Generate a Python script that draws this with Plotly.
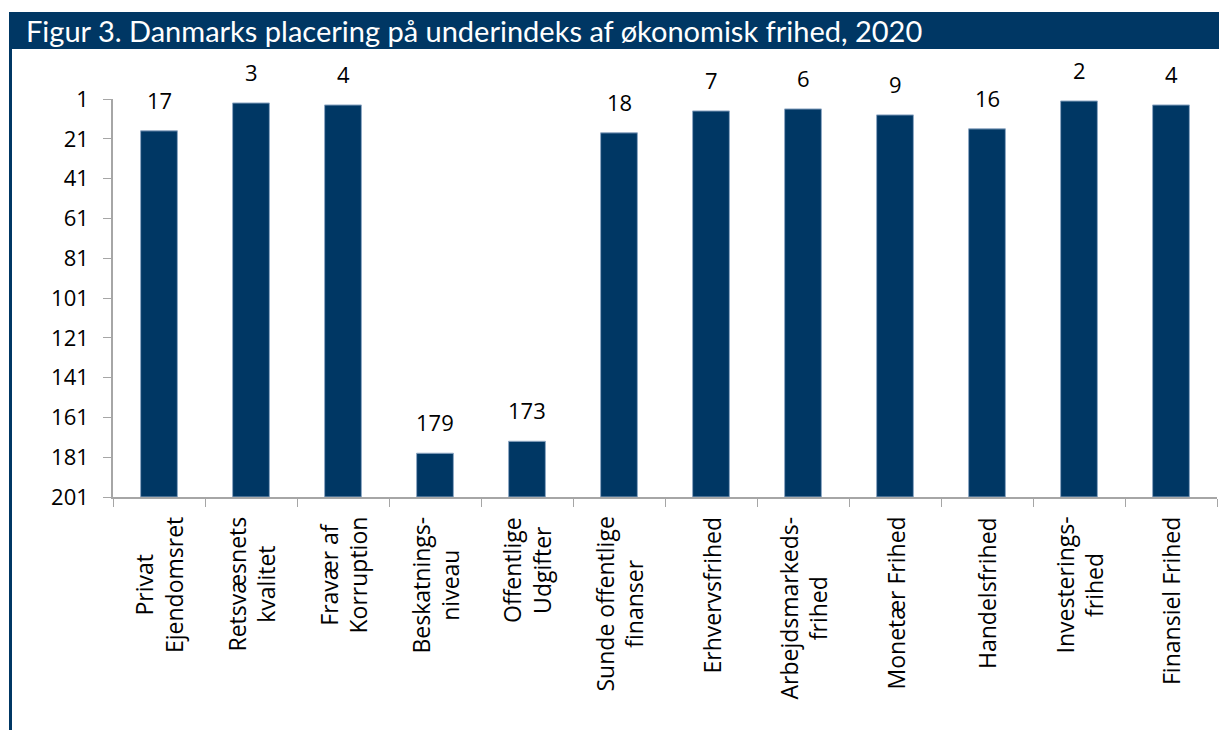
import plotly.graph_objects as go

categories = [
    "Privat<br>Ejendomsret",
    "Retsvæsnets<br>kvalitet",
    "Fravær af<br>Korruption",
    "Beskatnings-<br>niveau",
    "Offentlige<br>Udgifter",
    "Sunde offentlige<br>finanser",
    "Erhvervsfrihed",
    "Arbejdsmarkeds-<br>frihed",
    "Monetær Frihed",
    "Handelsfrihed",
    "Investerings-<br>frihed",
    "Finansiel Frihed",
]
ranks = [17, 3, 4, 179, 173, 18, 7, 6, 9, 16, 2, 4]
ytick_vals = list(range(1, 202, 20))
worst_rank = 201
title_text = "Figur 3. Danmarks placering på underindeks af økonomisk frihed, 2020"

NAVY = "#003764"
GRAY = "#a6a6a6"
OFF = 8  # page body margin offset
W, H = 1227 - OFF, 730 - OFF
L, R, T, B = 113 - OFF, 1217 - OFF, 99 - OFF, 497 - OFF  # plot area in figure pixels


def px(x):
    return (x - OFF - L) / (R - L)


def py(y):
    return (B - (y - OFF)) / (B - T)


xs = list(range(len(categories)))

fig = go.Figure()
fig.add_trace(go.Bar(
    x=xs,
    y=[r - worst_rank for r in ranks],
    base=[worst_rank] * len(ranks),
    width=0.4,
    marker=dict(color=NAVY, line=dict(color="#8fa8c4", width=1)),
    hoverinfo="skip",
))

annotations = []
for x, r in zip(xs, ranks):
    annotations.append(dict(
        x=x, y=r, xref="x", yref="y", text=str(r), showarrow=False,
        yanchor="bottom", yshift=14,
        font=dict(family="Open Sans", size=22, color="black"),
    ))
for x, c in zip(xs, categories):
    annotations.append(dict(
        x=x, y=0, xref="x", yref="paper", text=c, showarrow=False,
        yanchor="top", xanchor="center", yshift=-18, textangle=-90, align="center",
        font=dict(family="Open Sans", size=23, color="black"),
    ))
annotations.append(dict(
    x=px(24), y=py(31), xref="paper", yref="paper", text=title_text, showarrow=False,
    xanchor="left", yanchor="middle",
    font=dict(family="Lato", size=29, color="white"),
))

shapes = [
    dict(type="rect", xref="paper", yref="paper", x0=px(9), x1=px(1240), y0=py(49), y1=py(12),
         fillcolor=NAVY, line=dict(width=0), layer="below"),
    dict(type="rect", xref="paper", yref="paper", x0=px(9), x1=px(12), y0=py(740), y1=py(49),
         fillcolor=NAVY, line=dict(width=0), layer="below"),
]

fig.update_layout(
    width=W, height=H,
    margin=dict(l=L, r=W - R, t=T, b=H - B, pad=0),
    paper_bgcolor="white", plot_bgcolor="white",
    showlegend=False,
    annotations=annotations,
    shapes=shapes,
    xaxis=dict(
        type="linear", range=[-0.5, len(categories) - 0.5],
        tickvals=[i - 0.5 for i in range(len(categories) + 1)],
        showticklabels=False, ticks="outside", ticklen=8, tickcolor=GRAY, tickwidth=1,
        showline=True, linecolor=GRAY, linewidth=1.5, showgrid=False, zeroline=False,
    ),
    yaxis=dict(
        range=[worst_rank, 1], tickvals=ytick_vals,
        ticks="outside", ticklen=8, tickcolor=GRAY, tickwidth=1,
        showline=True, linecolor=GRAY, linewidth=1.5, showgrid=False, zeroline=False,
        tickfont=dict(family="Open Sans", size=22, color="black"),
        ticklabelstandoff=10,
    ),
)

fig.write_html("out.html")
